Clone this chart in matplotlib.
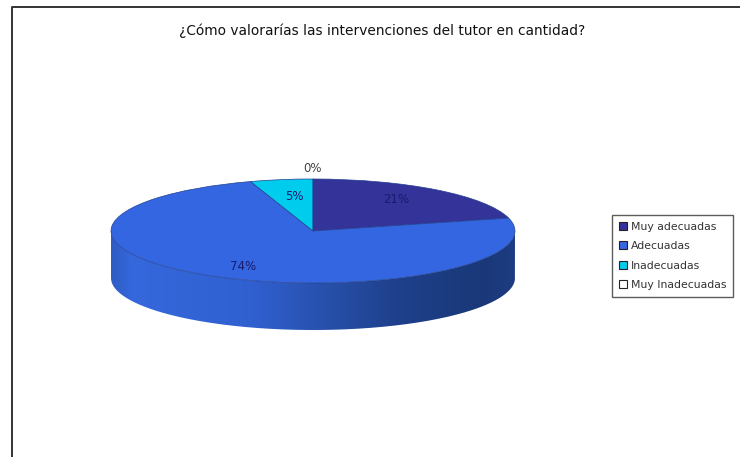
import numpy as np
from matplotlib import pyplot as plt
from matplotlib.colors import LinearSegmentedColormap
from matplotlib.lines import Line2D
from matplotlib.patches import PathPatch
from matplotlib.path import Path

title = "¿Cómo valorarías las intervenciones del tutor en cantidad?"
categories = ["Muy adecuadas", "Adecuadas", "Inadecuadas", "Muy Inadecuadas"]
values = [21, 74, 5, 0]
colors = ["#333399", "#3366e0", "#00ccee", "#ffffff"]

W, H = 740, 457
plt.rcParams['font.family'] = ['DejaVu Sans']

fig = plt.figure(figsize=(W / 100, H / 100), dpi=100)
fig.patch.set_facecolor("white")

# outer frame, only left and top are visible in the picture
fig.add_artist(Line2D([11.5 / W, 11.5 / W, 1], [0, 1 - 7 / H, 1 - 7 / H], color="#333333", lw=1.4))

# pie ellipse is 404x104 px and the wall is 47 px deep
depth = 47 / 52
ax = fig.add_axes([111 / W, 1 - 330 / H, 404 / W, 151 / H])
wedges, labels, pcts = ax.pie(values, colors=colors, startangle=90, counterclock=False,
                              autopct="%d%%", pctdistance=0.72,
                              wedgeprops={"edgecolor": "#24418f", "linewidth": 0.5, "zorder": 3},
                              textprops={"fontsize": 8.5, "color": "#1a1a6e", "zorder": 4})
ax.set_aspect("auto")

# side wall with horizontal shading
wall_cmap = LinearSegmentedColormap.from_list("wall", [
    (0.0, "#2f5cc4"), (0.05, "#3568dc"), (0.35, "#3060d0"), (0.55, "#274fa8"),
    (0.72, "#1e3f8a"), (0.92, "#1a3878"), (1.0, "#1d3c82")])
t = np.linspace(np.pi, 2 * np.pi, 200)
xs = np.cos(t)
ys = np.sin(t)
outline = np.vstack([np.column_stack([xs, ys]), np.column_stack([xs[::-1], ys[::-1] - depth])])
clip = PathPatch(Path(outline), transform=ax.transData, facecolor="none", edgecolor="none")
ax.add_patch(clip)
im = ax.imshow(np.linspace(0, 1, 256).reshape(1, -1), cmap=wall_cmap, aspect="auto",
               extent=(-1, 1, -1 - depth, 0), zorder=1)
im.set_clip_path(clip)

ax.set_xlim(-1, 1)
ax.set_ylim(-1 - depth, 1)
ax.axis("off")

pcts[0].set_position((0.41, 0.615))
pcts[1].set_position((-0.347, -0.69))
pcts[2].set_position((-0.094, 0.673))
pcts[3].set_position((0, 1.21))
pcts[3].set_color("#444444")

leg = fig.legend(wedges, categories, loc="upper left", bbox_to_anchor=(612 / W, 1 - 215 / H),
                 fontsize=7.8, frameon=True, fancybox=False, edgecolor="#333333",
                 borderaxespad=0, borderpad=0.6, labelspacing=0.88,
                 handlelength=0.8, handleheight=0.8, handletextpad=0.35)
leg.get_frame().set_linewidth(1.0)
for h in leg.legend_handles:
    h.set_edgecolor("#222222")
    h.set_linewidth(0.8)
for txt in leg.get_texts():
    txt.set_color("#333333")

fig.text(382 / W, 1 - 31 / H, title, ha="center", va="center", fontsize=9.9, color="#111111")

fig.savefig("out.png", dpi=100)
